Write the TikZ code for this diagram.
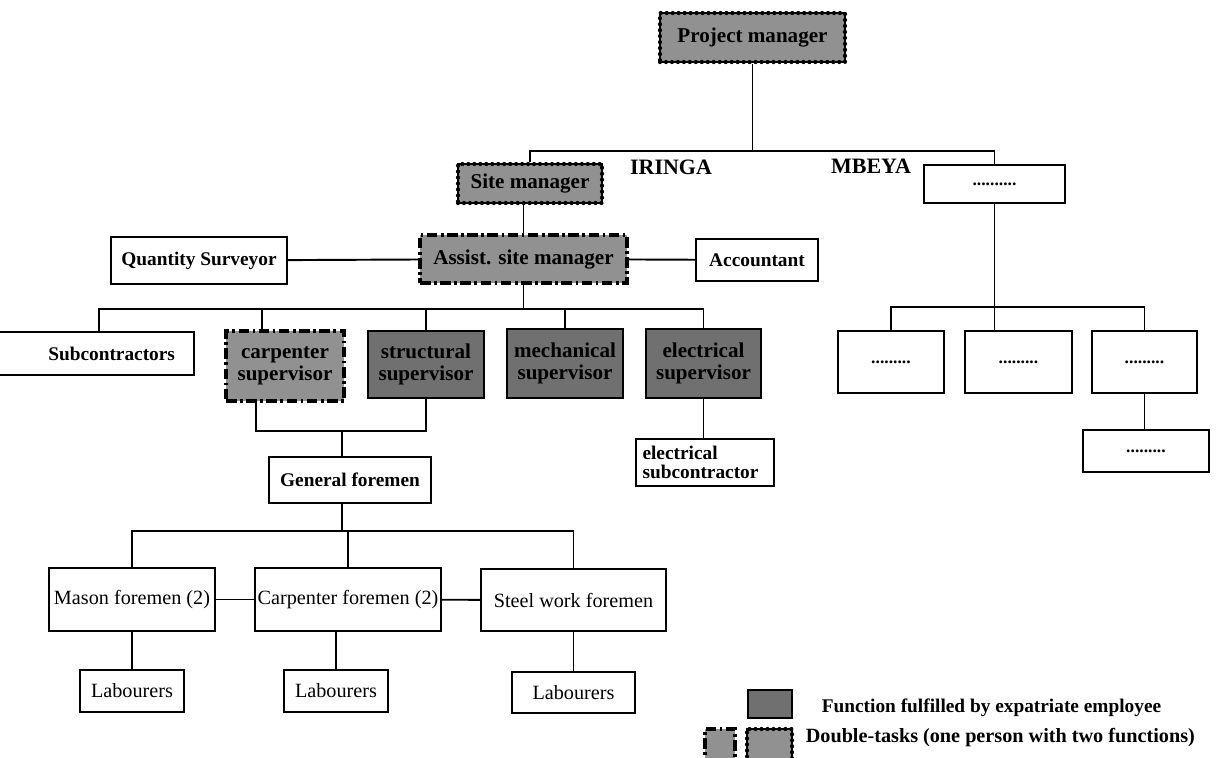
\documentclass[tikz,border=0pt]{standalone}
\usepackage{fontspec}
\setmainfont{Liberation Serif}
\usepackage{tikz}
\usetikzlibrary{calc,positioning}
\definecolor{dotgrey}{RGB}{145,145,145}
\definecolor{expatgrey}{RGB}{112,112,112}
\tikzstyle{post}=[draw,line width=1pt,align=center,inner sep=1pt,font=\bfseries\fontsize{11}{11}\selectfont]
\tikzstyle{worker}=[post,font=\fontsize{11.5}{12}\selectfont]
\tikzstyle{blank}=[post,font=\bfseries\fontsize{10}{10}\selectfont]
\tikzstyle{expat}=[post,fill=expatgrey,line width=1.4pt,font=\bfseries\fontsize{12}{12.5}\selectfont]
\tikzstyle{dashpost}=[post,fill=dotgrey,line width=2pt,dash pattern=on 6pt off 2pt on 1.5pt off 2pt,font=\bfseries\fontsize{12}{12.5}\selectfont]
\tikzstyle{beadpost}=[post,fill=dotgrey,line width=2.4pt,line cap=round,dash pattern=on 0pt off 3.4pt,postaction={draw,solid,line width=0.8pt},font=\bfseries\fontsize{12}{12}\selectfont]
\tikzstyle{place}=[font=\bfseries\fontsize{12.5}{12}\selectfont]

\begin{document}
\begin{tikzpicture}[line width=1.1pt]
\useasboundingbox (0,0) rectangle (24.62,-15.14);
\draw (15.05,-0.75) node [beadpost,minimum width=3.7cm,minimum height=0.98cm] (pm) {Project manager};
\draw (10.6,-3.67) node [beadpost,minimum width=2.88cm,minimum height=0.78cm] (sm) {Site manager};
\draw (10.47,-5.18) node [dashpost,minimum width=4.14cm,minimum height=0.96cm] (asm) {Assist. site manager};
\draw (3.98,-5.21) node [post,minimum width=3.52cm,minimum height=0.94cm] (qs) {Quantity Surveyor};
\draw (15.14,-5.2) node [post,minimum width=2.44cm,minimum height=0.84cm] (acc) {Accountant};
\draw (13.42,-3.34) node [place] (iringa) {IRINGA};
\draw (17.42,-3.33) node [place] (mbeya) {MBEYA};

\draw (1.92,-7.07) node [post,text width=3.16cm,inner xsep=0.38cm,align=right,minimum height=0.86cm] (sub) {Subcontractors};
\draw (5.7,-7.32) node [dashpost,minimum width=2.36cm,minimum height=1.4cm] (cs) {carpenter\\supervisor};
\draw (8.52,-7.29) node [expat,minimum width=2.32cm,minimum height=1.34cm] (ss) {structural\\supervisor};
\draw (11.3,-7.27) node [expat,minimum width=2.32cm,minimum height=1.38cm] (ms) {mechanical\\supervisor};
\draw (14.07,-7.27) node [expat,minimum width=2.3cm,minimum height=1.38cm] (es) {electrical\\supervisor};
\draw (14.1,-9.25) node [post,text width=2.5cm,inner xsep=0.13cm,align=left,minimum height=0.94cm] (esub) {electrical\\subcontractor};

\draw (7.0,-9.6) node [post,minimum width=3.24cm,minimum height=0.92cm] (gf) {General foremen};
\draw (2.64,-11.99) node [worker,minimum width=3.32cm,minimum height=1.26cm] (mf) {Mason foremen (2)};
\draw (6.96,-11.99) node [worker,minimum width=3.72cm,minimum height=1.26cm] (cf) {Carpenter foremen (2)};
\draw (11.47,-12.0) node [worker,minimum width=3.7cm,minimum height=1.24cm] (sf) {Steel work foremen};
\draw (2.64,-13.82) node [worker,minimum width=2.08cm,minimum height=0.84cm] (lab1) {Labourers};
\draw (6.72,-13.82) node [worker,minimum width=2.08cm,minimum height=0.84cm] (lab2) {Labourers};
\draw (11.47,-13.85) node [worker,minimum width=2.46cm,minimum height=0.82cm] (lab3) {Labourers};

\draw (19.89,-3.68) node [blank,minimum width=2.82cm,minimum height=0.76cm] (mb0) {..........};
\draw (17.82,-7.24) node [blank,minimum width=2.12cm,minimum height=1.24cm] (mb1) {.........};
\draw (20.37,-7.24) node [blank,minimum width=2.14cm,minimum height=1.24cm] (mb2) {.........};
\draw (22.89,-7.24) node [blank,minimum width=2.1cm,minimum height=1.24cm] (mb3) {.........};
\draw (22.92,-9.02) node [blank,minimum width=2.52cm,minimum height=0.84cm] (mb4) {.........};

\coordinate (top) at (14.94,-3.02);
\coordinate (supbar) at (10.47,-6.18);
\coordinate (gfbar) at (6.84,-8.62);
\coordinate (fmbar) at (6.84,-10.62);
\coordinate (mbbar) at (19.89,-6.14);

\draw (pm.south) -- (pm.south |- top);
\draw (sm.north) |- (top) -| (mb0.north);
\draw (asm.north |- sm.south) -- (asm.north);
\draw (qs) -- (asm);
\draw (asm) -- (acc);
\draw (asm.south) -- (supbar);
\draw (sub.north -| 1.98,0) |- (supbar) -| (es.north);
\draw ($(cs.north)+(-0.46,0)$) -- ($(cs.north |- supbar)+(-0.46,0)$);
\draw (ss.north) -- (ss.north |- supbar);
\draw (ms.north) -- (ms.north |- supbar);
\draw (es.south) -- (esub.north -| es.south);
\draw ($(cs.south)+(-0.58,0)$) |- (gfbar) -| (ss.south);
\draw (gfbar) -- (gfbar |- gf.north);
\draw (fmbar |- gf.south) -- (fmbar);
\draw (mf.north) |- (fmbar) -| (sf.north);
\draw (cf.north |- fmbar) -- (cf.north);
\draw (mf) -- (cf);
\draw (cf) -- (sf);
\draw (mf) -- (lab1);
\draw (lab2.north) -- (lab2.north |- cf.south);
\draw (sf) -- (lab3);

\draw (mb0.south) -- (mb0.south |- mb2.north);
\draw (mb1.north) |- (mbbar) -| (mb3.north);
\draw (mb3.south) -- (mb3.south |- mb4.north);

\draw (15.4,-14.08) node [expat,minimum width=0.88cm,minimum height=0.56cm] (k1) {};
\draw (14.4,-14.9) node [dashpost,minimum width=0.6cm,minimum height=0.64cm] (k2) {};
\draw (15.39,-14.9) node [beadpost,minimum width=0.9cm,minimum height=0.64cm] (k3) {};
\draw (16.3,-14.16) node [anchor=west,font=\bfseries\fontsize{11}{11}\selectfont] (k1text) {Function fulfilled by expatriate employee};
\draw (15.98,-14.76) node [anchor=west,font=\bfseries\fontsize{11.5}{11}\selectfont] (k2text) {Double-tasks (one person with two functions)};
\end{tikzpicture}
\end{document}
